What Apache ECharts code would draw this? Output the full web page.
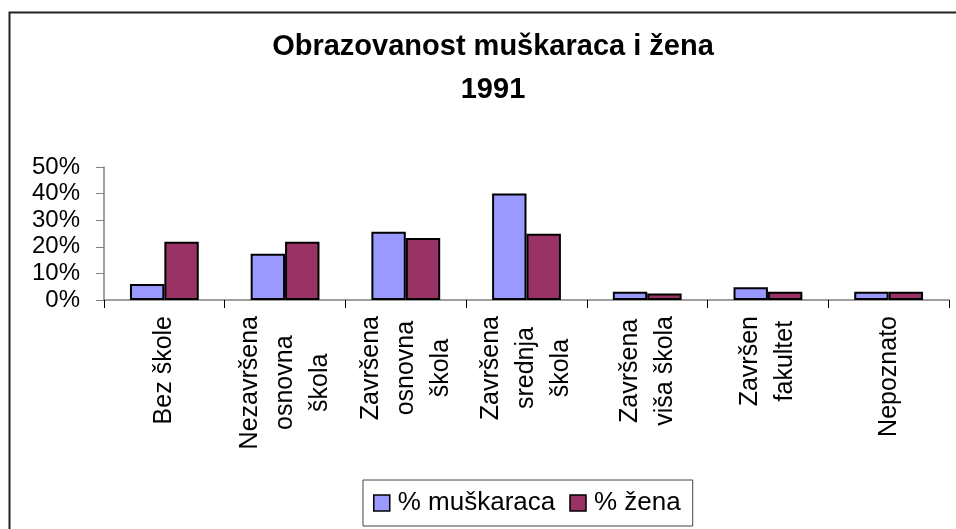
<!DOCTYPE html>
<html>
<head>
<meta charset="utf-8">
<script src="https://cdn.jsdelivr.net/npm/echarts@6/dist/echarts.min.js"></script>
<style>
  html, body { margin: 0; padding: 0; background: #fff; }
  #chart { width: 956px; height: 529px; }
</style>
</head>
<body>
<div id="chart"></div>
<script>
  // podaci (procenti)
  var categories = [
    'Bez škole',
    'Nezavršena\nosnovna\nškola',
    'Završena\nosnovna\nškola',
    'Završena\nsrednja\nškola',
    'Završena\nviša škola',
    'Završen\nfakultet',
    'Nepoznato'
  ]
  var muskarci = [6.0, 17.4, 25.7, 40.0, 3.1, 4.8, 3.1]
  var zene = [21.9, 21.9, 23.3, 24.9, 2.4, 3.1, 3.1]
  var seriesNames = ['% muškaraca', '% žena']
  var yTicks = [0, 10, 20, 30, 40, 50]

  var font = "'Liberation Sans', Arial, sans-serif"
  var axisGray = '#808080'

  var chart = echarts.init(document.getElementById('chart'), null, { renderer: 'canvas' })
  chart.setOption({
    animation: false,
    backgroundColor: '#fff',
    color: ['#9999FF', '#993366'],
    title: {
      text: 'Obrazovanost muškaraca i žena\n1991',
      left: 488,
      top: 20,
      textAlign: 'center',
      textStyle: {
        fontFamily: font,
        fontSize: 29,
        fontWeight: 'bold',
        color: '#000',
        lineHeight: 43
      }
    },
    // okvir oko grafikona
    graphic: [{
      type: 'rect',
      left: 7,
      top: 10,
      shape: { width: 1000, height: 600 },
      style: { fill: 'none', stroke: '#222', lineWidth: 2 },
      silent: true
    }],
    legend: {
      data: seriesNames,
      left: 363,
      top: 480,
      padding: [10, 12, 10, 10],
      borderColor: '#444',
      borderWidth: 1,
      itemGap: 14,
      itemWidth: 16,
      itemHeight: 16,
      icon: 'rect',
      itemStyle: { borderColor: '#000', borderWidth: 1.5 },
      textStyle: {
        fontFamily: font,
        fontSize: 26,
        color: '#000',
        padding: [0, 0, 0, 3]
      }
    },
    grid: {
      left: 104,
      right: 7,
      top: 167,
      bottom: 229,
      containLabel: false
    },
    xAxis: {
      type: 'category',
      data: categories,
      axisLine: { lineStyle: { color: axisGray, width: 1.5 } },
      axisTick: { show: true, length: 8, lineStyle: { color: '#000' } },
      axisLabel: {
        rotate: 90,
        margin: 16,
        interval: 0,
        fontFamily: font,
        fontSize: 25,
        color: '#000',
        lineHeight: 35,
        formatter: function (v) {
          return v.split('\n').map(function (s) { return '{c|' + s + '}' }).join('\n')
        },
        rich: {
          c: { align: 'center', fontFamily: font, fontSize: 25, lineHeight: 35, color: '#000' }
        }
      }
    },
    yAxis: {
      type: 'value',
      min: yTicks[0],
      max: yTicks[yTicks.length - 1],
      interval: 10,
      axisLine: { show: true, lineStyle: { color: axisGray, width: 1.5 } },
      axisTick: { show: true, length: 8, lineStyle: { color: axisGray } },
      splitLine: { show: false },
      axisLabel: {
        margin: 24,
        fontFamily: font,
        fontSize: 24,
        color: '#000',
        formatter: '{value}%'
      }
    },
    series: [{
      name: seriesNames[0],
      type: 'bar',
      data: muskarci,
      barGap: '0%',
      barCategoryGap: '43%',
      itemStyle: { borderColor: '#000', borderWidth: 2 }
    }, {
      name: seriesNames[1],
      type: 'bar',
      data: zene,
      barGap: '0%',
      barCategoryGap: '43%',
      itemStyle: { borderColor: '#000', borderWidth: 2 }
    }]
  })
</script>
</body>
</html>
